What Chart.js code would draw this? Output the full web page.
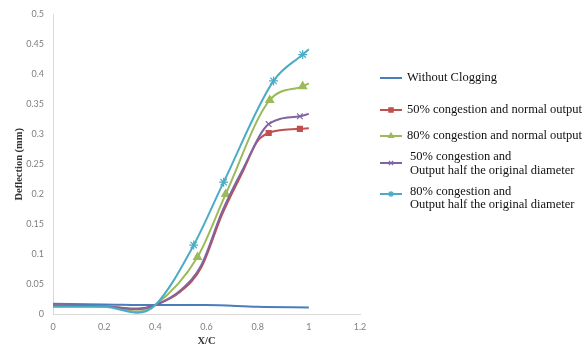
<!DOCTYPE html>
<html lang="en">
<head>
<meta charset="UTF-8">
<title>Deflection vs X/C</title>
<script src="https://cdn.jsdelivr.net/npm/chart.js"></script>
<style>
  html, body { margin: 0; padding: 0; background: #fff; }
  #wrap { width: 584px; height: 347px; }
</style>
</head>
<body>
<div id="wrap"><canvas id="chart" width="584" height="347"></canvas></div>
<script>
// values
const xTicks = [0, 0.2, 0.4, 0.6, 0.8, 1, 1.2];
const yTicks = [0, 0.05, 0.1, 0.15, 0.2, 0.25, 0.3, 0.35, 0.4, 0.45, 0.5];

const blueX = [0, 0.2, 0.4, 0.6, 0.8, 1.0];
const blueY = [0.017, 0.016, 0.015, 0.015, 0.012, 0.011];

const redX = [0, 0.2, 0.33, 0.4, 0.5, 0.58, 0.66, 0.74, 0.8, 0.843, 0.965, 1.0];
const redY = [0.014, 0.013, 0.009, 0.015, 0.038, 0.078, 0.165, 0.236, 0.289, 0.302, 0.309, 0.31];
const redMarks = [9, 10];

const greenX = [0, 0.2, 0.33, 0.4, 0.565, 0.675, 0.847, 0.976, 1.0];
const greenY = [0.013, 0.013, 0.004, 0.015, 0.095, 0.2, 0.357, 0.38, 0.385];
const greenMarks = [4, 5, 6, 7];

const purpleX = [0, 0.2, 0.33, 0.4, 0.5, 0.58, 0.66, 0.74, 0.843, 0.965, 1.0];
const purpleY = [0.014, 0.013, 0.008, 0.015, 0.04, 0.082, 0.17, 0.24, 0.317, 0.33, 0.334];
const purpleMarks = [8, 9];

const cyanX = [0, 0.2, 0.33, 0.4, 0.55, 0.667, 0.862, 0.976, 1.0];
const cyanY = [0.012, 0.012, 0.002, 0.015, 0.115, 0.22, 0.389, 0.433, 0.442];
const cyanMarks = [4, 5, 6, 7];

const labels = [
  ['Without Clogging'],
  ['50% congestion and normal output'],
  ['80% congestion and normal output'],
  ['50% congestion and', 'Output half the original diameter'],
  ['80% congestion and', 'Output half the original diameter']
];

const pts = (xs, ys) => xs.map((x, i) => ({ x: x, y: ys[i] }));
const radii = (n, marks, r) => Array.from({ length: n }, (_, i) => marks.includes(i) ? r : 0);

function series(label, xs, ys, color, style, marks, r, order) {
  return {
    label: label,
    data: pts(xs, ys),
    borderColor: color,
    backgroundColor: color,
    borderWidth: 2,
    pointStyle: style,
    pointRadius: radii(xs.length, marks, r),
    pointBorderWidth: 1.2,
    pointBorderColor: color,
    pointBackgroundColor: color,
    cubicInterpolationMode: 'monotone',
    fill: false,
    order: order
  };
}

const datasets = [
  series(labels[0].join(' '), blueX, blueY, '#4a7ebb', 'line', [], 0, 5),
  series(labels[1].join(' '), redX, redY, '#c0504d', 'rect', redMarks, 3.5, 4),
  series(labels[2].join(' '), greenX, greenY, '#9bbb59', 'triangle', greenMarks, 4.5, 3),
  series(labels[3].join(' '), purpleX, purpleY, '#8064a2', 'crossRot', purpleMarks, 4, 2),
  series(labels[4].join(' '), cyanX, cyanY, '#4bacc6', 'star', cyanMarks, 4.5, 1)
];

// legend rows: y of marker line, y of each text line
const legendRows = [
  { line: 78, text: [78] },
  { line: 110, text: [110] },
  { line: 136, text: [136] },
  { line: 163, text: [157, 171] },
  { line: 194, text: [192, 205] }
];

const sideLegend = {
  id: 'sideLegend',
  afterDraw(chart) {
    const ctx = chart.ctx;
    ctx.save();
    datasets.forEach((ds, i) => {
      const row = legendRows[i];
      ctx.strokeStyle = ds.borderColor;
      ctx.lineWidth = 2;
      ctx.beginPath();
      ctx.moveTo(380, row.line);
      ctx.lineTo(402, row.line);
      ctx.stroke();
      if (i > 0) {
        ctx.fillStyle = ds.borderColor;
        ctx.lineWidth = 1.2;
        Chart.helpers.drawPoint(ctx, { pointStyle: ds.pointStyle, radius: 3, borderWidth: 1.2 }, 391, row.line);
      }
      ctx.fillStyle = '#111';
      ctx.font = '12.5px "Liberation Serif"';
      ctx.textBaseline = 'middle';
      labels[i].forEach((t, j) => {
        ctx.fillText(t, row.text.length > 1 ? 410 : 407, row.text[j]);
      });
    });
    ctx.restore();
  }
};

const tickFont = { family: 'Lato', size: 9 };
const titleFont = { family: 'Liberation Serif', size: 10.5, weight: 'bold' };
const fmt = v => String(Math.round(v * 100) / 100);

new Chart(document.getElementById('chart').getContext('2d'), {
  type: 'line',
  data: { datasets: datasets },
  plugins: [sideLegend],
  options: {
    responsive: false,
    animation: false,
    layout: { padding: { top: 13, right: 224, left: 0, bottom: 0 } },
    plugins: { legend: { display: false }, tooltip: { enabled: false } },
    scales: {
      x: {
        type: 'linear',
        min: 0, max: 1.2,
        afterBuildTicks: s => { s.ticks = xTicks.map(v => ({ value: v })); },
        afterFit: s => { s.height = 33; },
        grid: { display: false, drawTicks: false },
        border: { color: '#d9d9d9', width: 1 },
        ticks: { font: tickFont, color: '#7f7f7f', padding: 8, callback: fmt, maxRotation: 0 },
        title: { display: true, text: 'X/C', font: titleFont, color: '#333', padding: { top: 0, bottom: -1 } }
      },
      y: {
        min: 0, max: 0.5,
        afterBuildTicks: s => { s.ticks = yTicks.map(v => ({ value: v })); },
        afterFit: s => { s.width = 53; },
        grid: { display: false, drawTicks: false },
        border: { color: '#d9d9d9', width: 1 },
        ticks: { font: tickFont, color: '#7f7f7f', padding: 9, callback: fmt },
        title: { display: true, text: 'Deflection (mm)', font: titleFont, color: '#333', padding: { top: 13, bottom: 0 } }
      }
    }
  }
});
</script>
</body>
</html>
